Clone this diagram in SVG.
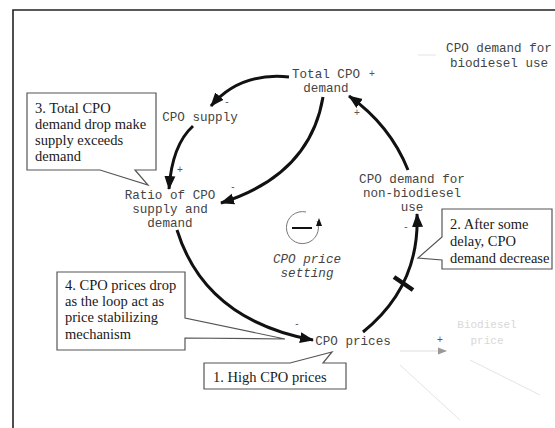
<svg xmlns="http://www.w3.org/2000/svg" width="555" height="428" viewBox="0 0 555 428">
<defs>
<marker id="ah" markerUnits="userSpaceOnUse" markerWidth="16" markerHeight="12" refX="13" refY="6" orient="auto">
<path d="M0,0.5 L14,6 L0,11.5 Z" fill="#111"/>
</marker>
<marker id="fah" markerUnits="userSpaceOnUse" markerWidth="10" markerHeight="8" refX="8" refY="4" orient="auto">
<path d="M0,0.5 L9,4 L0,7.5 Z" fill="#999"/>
</marker>
</defs>
<style>
.lbl{font-family:"Liberation Mono",monospace;font-size:12.6px;fill:#444;text-anchor:middle}
.it{font-style:italic}
.pol{font-family:"Liberation Sans",sans-serif;font-size:10px;fill:#555;text-anchor:middle}
.call{font-family:"Liberation Serif",serif;font-size:14.5px;fill:#1a1a1a}
.box{fill:#fff;stroke:#555;stroke-width:1.2}
.link{fill:none;stroke:#111;stroke-width:3;marker-end:url(#ah)}
.faint{fill:none;stroke:#e4e4e4;stroke-width:1}
</style>
<rect width="555" height="428" fill="#fff"/>
<path d="M13,428 V10 H555" fill="none" stroke="#222" stroke-width="1.6"/>

<g id="faint-bits">
<path class="faint" d="M418,55 L436,55"/>
<path d="M400,351 L446,351" fill="none" stroke="#ddd" stroke-width="1" marker-end="url(#fah)"/>
<path class="faint" d="M400,365 L460,420"/>
<path class="faint" d="M470,360 L540,395"/>
<text x="487" y="328" class="lbl" style="fill:#d8d8d8;font-size:11px">Biodiesel</text>
<text x="487" y="344" class="lbl" style="fill:#d8d8d8;font-size:11px">price</text>
</g>

<g id="connectors">
<path class="link" d="M289,77 Q240,72 211,106"/>
<path class="link" d="M193,126 Q172,145 169,189"/>
<path class="link" d="M323,97 Q310,175 221,203"/>
<path class="link" d="M177,230 Q205,320 313,340"/>
<path class="link" d="M363,332 Q420,286 417,214"/>
<path d="M394,277 L413,290" stroke="#111" stroke-width="4.5" fill="none"/>
<path class="link" d="M408,170 Q390,125 349,96"/>
</g>

<g id="node-total-demand">
<text x="326" y="78" class="lbl">Total CPO</text>
<text x="326" y="92" class="lbl">demand</text>
</g>
<g id="node-biodiesel-demand">
<text x="499" y="52" class="lbl">CPO demand for</text>
<text x="499" y="67" class="lbl">biodiesel use</text>
</g>
<g id="node-supply">
<text x="200" y="121" class="lbl">CPO supply</text>
</g>
<g id="node-ratio">
<text x="170" y="199" class="lbl">Ratio of CPO</text>
<text x="170" y="213" class="lbl">supply and</text>
<text x="170" y="227" class="lbl">demand</text>
</g>
<g id="node-nonbiodiesel">
<text x="412" y="183" class="lbl">CPO demand for</text>
<text x="412" y="197" class="lbl">non-biodiesel</text>
<text x="412" y="211" class="lbl">use</text>
</g>
<g id="node-prices">
<text x="353" y="345" class="lbl">CPO prices</text>
</g>
<g id="loop">
<path d="M317,221 A16,16 0 1,1 306,212" fill="none" stroke="#777" stroke-width="1"/>
<path d="M292,228 L312,228" stroke="#111" stroke-width="2"/>
<path d="M316,226 L319,218 L322,226 Z" fill="#111"/>
<text x="307" y="263" class="lbl it">CPO price</text>
<text x="307" y="277" class="lbl it">setting</text>
</g>

<g id="polarities">
<text x="372" y="77" class="pol">+</text>
<text x="357" y="116" class="pol">+</text>
<text x="227" y="105" class="pol">-</text>
<text x="180" y="173" class="pol">+</text>
<text x="233" y="190" class="pol">-</text>
<text x="297" y="327" class="pol">-</text>
<text x="406" y="230" class="pol">-</text>
<text x="440" y="343" class="pol">+</text>
</g>

<g id="callout-3">
<path class="box" d="M27,93 H156 V170 H135 L148,185 L100,170 H27 Z"/>
<text x="35" y="113" class="call">3. Total CPO</text>
<text x="35" y="129" class="call">demand drop make</text>
<text x="35" y="145" class="call">supply exceeds</text>
<text x="35" y="161" class="call">demand</text>
</g>
<g id="callout-4">
<path class="box" d="M57,272 H185 V318 L285,339 L185,338 V350 H57 Z"/>
<text x="65" y="290" class="call">4. CPO prices drop</text>
<text x="65" y="306" class="call">as the loop act as</text>
<text x="65" y="322" class="call">price stabilizing</text>
<text x="65" y="339" class="call">mechanism</text>
</g>
<g id="callout-1">
<path class="box" d="M204,363 H290 L332,352 L323,363 H346 V389 H204 Z"/>
<text x="213" y="382" class="call">1. High CPO prices</text>
</g>
<g id="callout-2">
<path class="box" d="M442,209 H552 V269 H442 V260 L418,258 L442,237 Z"/>
<text x="450" y="229" class="call">2. After some</text>
<text x="450" y="246" class="call">delay, CPO</text>
<text x="450" y="263" class="call">demand decrease</text>
</g>
</svg>
